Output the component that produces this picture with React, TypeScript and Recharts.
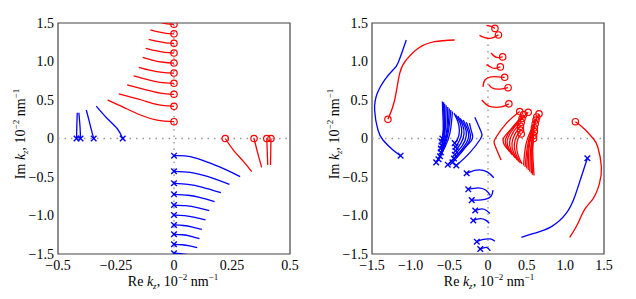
import React from "react";
import { ScatterChart, Scatter, XAxis, YAxis, ReferenceLine, ReferenceArea } from "recharts";

type Pt = [number, number];

const RED = "#ff0000";
const BLUE = "#0000ff";
const FONT = "'Liberation Serif', 'Times New Roman', serif";

const Y_TICKS = [-1.5, -1, -0.5, 0, 0.5, 1, 1.5];
const Y_LABELS = ["−1.5", "−1.0", "−0.5", "0", "0.5", "1.0", "1.5"];
const LEFT_X_TICKS = [-0.5, -0.25, 0, 0.25, 0.5];
const LEFT_X_LABELS = ["−0.5", "−0.25", "0", "0.25", "0.5"];
const RIGHT_X_TICKS = [-1.5, -1, -0.5, 0, 0.5, 1, 1.5];
const RIGHT_X_LABELS = ["−1.5", "−1.0", "−0.5", "0", "0.5", "1.0", "1.5"];

// left panel: first point of each curve carries the marker
const leftRed: Pt[][] = [
  [[0, 0.218], [-0.073, 0.24], [-0.145, 0.305], [-0.217, 0.405], [-0.286, 0.5]],
  [[0, 0.418], [-0.07, 0.44], [-0.14, 0.5], [-0.238, 0.58]],
  [[0, 0.574], [-0.06, 0.59], [-0.12, 0.63], [-0.202, 0.695]],
  [[0, 0.717], [-0.06, 0.73], [-0.11, 0.76], [-0.174, 0.812]],
  [[0, 0.85], [-0.05, 0.86], [-0.1, 0.885], [-0.152, 0.925]],
  [[0, 0.98], [-0.045, 0.99], [-0.09, 1.015], [-0.135, 1.054]],
  [[0, 1.11], [-0.04, 1.118], [-0.08, 1.14], [-0.122, 1.171]],
  [[0, 1.236], [-0.035, 1.243], [-0.07, 1.26], [-0.109, 1.288]],
  [[0, 1.36], [-0.035, 1.366], [-0.068, 1.384], [-0.102, 1.41]],
  [[0, 1.483], [-0.03, 1.49], [-0.06, 1.51]],
  [[0.221, 0], [0.256, -0.15], [0.3, -0.3], [0.335, -0.43]],
  [[0.345, 0], [0.36, -0.18], [0.378, -0.375]],
  [[0.4, 0], [0.402, -0.17], [0.404, -0.345]],
  [[0.418, 0], [0.417, -0.17], [0.416, -0.345]],
];

const leftBlue: Pt[][] = [
  [[0, -0.223], [0.07, -0.235], [0.156, -0.32], [0.228, -0.41], [0.285, -0.496]],
  [[0, -0.426], [0.07, -0.44], [0.14, -0.49], [0.239, -0.595]],
  [[0, -0.582], [0.06, -0.595], [0.12, -0.63], [0.202, -0.703]],
  [[0, -0.725], [0.06, -0.737], [0.11, -0.765], [0.175, -0.82]],
  [[0, -0.864], [0.05, -0.873], [0.1, -0.897], [0.152, -0.937]],
  [[0, -0.994], [0.045, -1.002], [0.09, -1.024], [0.136, -1.058]],
  [[0, -1.123], [0.04, -1.13], [0.08, -1.15], [0.12, -1.18]],
  [[0, -1.244], [0.037, -1.25], [0.074, -1.27], [0.11, -1.3]],
  [[0, -1.374], [0.035, -1.38], [0.068, -1.395], [0.1, -1.418]],
  [[0, -1.49], [0.03, -1.495], [0.063, -1.51]],
  [[-0.42, 0], [-0.419, 0.15], [-0.417, 0.335]],
  [[-0.403, 0], [-0.405, 0.15], [-0.41, 0.335]],
  [[-0.346, 0], [-0.355, 0.1], [-0.365, 0.22], [-0.378, 0.37]],
  [[-0.221, 0], [-0.245, 0.13], [-0.288, 0.26], [-0.335, 0.42]],
];

// right panel
const rightRed: Pt[][] = [
  [[-1.294, 0.249], [-1.207, 0.5], [-1.142, 0.847], [-1.057, 1.02], [-0.906, 1.17], [-0.69, 1.257], [-0.431, 1.279]],
  [[1.13, 0.218], [1.24, 0.13], [1.36, 0.0], [1.42, -0.11], [1.466, -0.366], [1.44, -0.59], [1.36, -0.78], [1.25, -0.92], [1.164, -1.1], [1.057, -1.283]],
  [[0.09, 1.43], [0.04, 1.455], [-0.02, 1.47]],
  [[0.135, 1.345], [0.09, 1.32], [0.03, 1.3], [-0.04, 1.31], [-0.11, 1.34]],
  [[0.19, 1.06], [0.13, 1.05], [0.08, 1.07], [0.04, 1.11]],
  [[0.16, 0.93], [0.08, 0.91], [0.03, 0.93], [-0.02, 0.96]],
  [[0.216, 0.795], [0.13, 0.8], [0.04, 0.8], [-0.04, 0.76], [-0.065, 0.67]],
  [[0.26, 0.66], [0.13, 0.64], [0.05, 0.66], [0.01, 0.7]],
  [[0.27, 0.45], [0.17, 0.41], [0.05, 0.41], [-0.02, 0.44], [-0.08, 0.5]],
  [[0.41, 0.35], [0.24, 0.2], [0.1, 0.01], [0.09, -0.09], [0.17, -0.28]],
  [[0.52, 0.34], [0.35, 0.17], [0.21, 0.02], [0.21, -0.08], [0.28, -0.17]],
  [[0.46, 0.31], [0.32, 0.15], [0.23, 0.0], [0.24, -0.1], [0.31, -0.21]],
  [[0.44, 0.26], [0.32, 0.12], [0.25, -0.02], [0.27, -0.13], [0.35, -0.25]],
  [[0.43, 0.21], [0.33, 0.09], [0.28, -0.04], [0.3, -0.16], [0.38, -0.28]],
  [[0.42, 0.16], [0.35, 0.06], [0.31, -0.06], [0.33, -0.18], [0.4, -0.3]],
  [[0.42, 0.11], [0.37, 0.03], [0.34, -0.08], [0.36, -0.2], [0.42, -0.32]],
  [[0.43, 0.06], [0.39, 0.0], [0.37, -0.1], [0.39, -0.22], [0.44, -0.33]],
  [[0.66, 0.32], [0.56, 0.12], [0.49, -0.08], [0.46, -0.35]],
  [[0.63, 0.28], [0.56, 0.09], [0.51, -0.1], [0.48, -0.37]],
  [[0.62, 0.24], [0.56, 0.06], [0.52, -0.12], [0.5, -0.39]],
  [[0.61, 0.19], [0.56, 0.03], [0.53, -0.14], [0.52, -0.41]],
  [[0.6, 0.14], [0.57, 0.0], [0.55, -0.16], [0.54, -0.43]],
  [[0.6, 0.09], [0.57, -0.03], [0.56, -0.18], [0.56, -0.45]],
  [[0.59, 0.04], [0.58, -0.06], [0.57, -0.2], [0.575, -0.47]],
  [[0.59, 0.0], [0.58, -0.09], [0.58, -0.22], [0.595, -0.48]],
];

const rightBlue: Pt[][] = [
  [[-1.13, -0.223], [-1.229, -0.15], [-1.358, -0.02], [-1.423, 0.11], [-1.466, 0.37], [-1.432, 0.587], [-1.336, 0.76], [-1.229, 0.89], [-1.164, 0.98], [-1.057, 1.28]],
  [[1.285, -0.257], [1.207, -0.496], [1.121, -0.756], [1.013, -0.97], [0.82, -1.145], [0.604, -1.23], [0.431, -1.283]],
  [[-0.276, -0.452], [-0.146, -0.41], [-0.017, -0.43], [0.075, -0.51]],
  [[-0.255, -0.66], [-0.125, -0.64], [-0.03, -0.67], [0.03, -0.74]],
  [[-0.21, -0.8], [-0.13, -0.8], [-0.04, -0.79], [0.04, -0.75], [0.065, -0.67]],
  [[-0.165, -0.935], [-0.08, -0.915], [-0.02, -0.935], [0.025, -0.975]],
  [[-0.19, -1.065], [-0.1, -1.04], [-0.03, -1.06], [0.017, -1.1]],
  [[-0.145, -1.34], [-0.06, -1.31], [0.03, -1.305], [0.09, -1.335]],
  [[-0.1, -1.435], [-0.02, -1.415], [0.03, -1.46]],
  [[-0.41, -0.35], [-0.24, -0.19], [-0.1, -0.01], [-0.09, 0.09], [-0.17, 0.275]],
  [[-0.52, -0.34], [-0.35, -0.17], [-0.21, -0.02], [-0.21, 0.08], [-0.24, 0.2]],
  [[-0.46, -0.31], [-0.32, -0.15], [-0.23, 0.0], [-0.24, 0.1], [-0.28, 0.21]],
  [[-0.44, -0.26], [-0.32, -0.12], [-0.25, 0.02], [-0.27, 0.13], [-0.32, 0.24]],
  [[-0.43, -0.21], [-0.33, -0.09], [-0.28, 0.04], [-0.3, 0.16], [-0.36, 0.26]],
  [[-0.42, -0.16], [-0.35, -0.06], [-0.31, 0.06], [-0.33, 0.18], [-0.39, 0.29]],
  [[-0.42, -0.11], [-0.37, -0.03], [-0.34, 0.08], [-0.36, 0.2], [-0.42, 0.31]],
  [[-0.43, -0.06], [-0.39, 0.0], [-0.37, 0.1], [-0.39, 0.22], [-0.44, 0.33]],
  [[-0.67, -0.31], [-0.56, -0.12], [-0.49, 0.08], [-0.46, 0.35]],
  [[-0.64, -0.27], [-0.56, -0.09], [-0.51, 0.1], [-0.48, 0.37]],
  [[-0.62, -0.23], [-0.56, -0.06], [-0.52, 0.12], [-0.5, 0.39]],
  [[-0.61, -0.18], [-0.56, -0.03], [-0.53, 0.14], [-0.52, 0.41]],
  [[-0.61, -0.13], [-0.57, 0.0], [-0.55, 0.16], [-0.54, 0.43]],
  [[-0.6, -0.09], [-0.57, 0.03], [-0.56, 0.18], [-0.56, 0.45]],
  [[-0.6, -0.04], [-0.58, 0.06], [-0.57, 0.2], [-0.575, 0.47]],
  [[-0.59, 0.0], [-0.58, 0.09], [-0.58, 0.22], [-0.59, 0.48]],
];

const toXY = (c: Pt[]) => c.map(([x, y]) => ({ x, y }));

const NoDot = () => <g />;

const CircleMark = (props: any) => (
  <circle cx={props.cx} cy={props.cy} r={3.2} fill="none" stroke={RED} strokeWidth={1.2} />
);

const CrossMark = (props: any) => {
  const { cx, cy } = props;
  const s = 2.8;
  return (
    <g stroke={BLUE} strokeWidth={1.4}>
      <line x1={cx - s} y1={cy - s} x2={cx + s} y2={cy + s} />
      <line x1={cx - s} y1={cy + s} x2={cx + s} y2={cy - s} />
    </g>
  );
};

function Panel({
  xDomain,
  xTicks,
  xLabels,
  red,
  blue,
  margin,
}: {
  xDomain: [number, number];
  xTicks: number[];
  xLabels: string[];
  red: Pt[][];
  blue: Pt[][];
  margin: { top: number; right: number; bottom: number; left: number };
}) {
  const tickStyle = { fill: "#000", fontSize: 14, fontFamily: FONT };
  return (
    <ScatterChart width={318} height={299} margin={margin}>
      <XAxis
        type="number"
        dataKey="x"
        domain={xDomain}
        ticks={xTicks}
        interval={0}
        allowDataOverflow
        axisLine={false}
        tickLine={false}
        tickSize={4}
        tickMargin={2}
        height={25}
        tick={tickStyle}
        tickFormatter={(v: number) => xLabels[xTicks.indexOf(v)] ?? String(v)}
      />
      <YAxis
        type="number"
        dataKey="y"
        domain={[-1.5, 1.5]}
        ticks={Y_TICKS}
        interval={0}
        allowDataOverflow
        axisLine={false}
        tickLine={false}
        tickSize={2}
        tickMargin={2}
        width={45}
        tick={tickStyle}
        tickFormatter={(v: number) => Y_LABELS[Y_TICKS.indexOf(v)] ?? String(v)}
      />
      <ReferenceLine x={0} stroke="#999" strokeWidth={1.4} strokeDasharray="1.5 5" />
      <ReferenceLine y={0} stroke="#999" strokeWidth={1.4} strokeDasharray="1.5 5" />
      {blue.map((c, i) => (
        <Scatter
          key={`b${i}`}
          data={toXY(c)}
          fill={BLUE}
          line={{ stroke: BLUE, strokeWidth: 1.3 }}
          lineJointType="natural"
          shape={NoDot}
          isAnimationActive={false}
        />
      ))}
      {red.map((c, i) => (
        <Scatter
          key={`r${i}`}
          data={toXY(c)}
          fill={RED}
          line={{ stroke: RED, strokeWidth: 1.3 }}
          lineJointType="natural"
          shape={NoDot}
          isAnimationActive={false}
        />
      ))}
      <Scatter data={blue.map((c) => ({ x: c[0][0], y: c[0][1] }))} fill={BLUE} shape={CrossMark} isAnimationActive={false} />
      <Scatter data={red.map((c) => ({ x: c[0][0], y: c[0][1] }))} fill={RED} shape={CircleMark} isAnimationActive={false} />
      <ReferenceArea x1={xDomain[0]} x2={xDomain[1]} y1={-1.5} y2={1.5} fill="none" stroke="#444" strokeWidth={1.2} />
    </ScatterChart>
  );
}

function XTitle({ x }: { x: number }) {
  return (
    <text x={x} y={286} textAnchor="middle" fontFamily={FONT} fontSize={14} fill="#000">
      Re <tspan fontStyle="italic">k</tspan>
      <tspan fontStyle="italic" fontSize={9} dy={3}>z</tspan>
      <tspan dy={-3}>, 10</tspan>
      <tspan fontSize={9} dy={-6}>−2</tspan>
      <tspan dy={6}> nm</tspan>
      <tspan fontSize={9} dy={-6}>−1</tspan>
    </text>
  );
}

function YTitle({ x }: { x: number }) {
  return (
    <text
      x={x}
      y={134}
      textAnchor="middle"
      fontFamily={FONT}
      fontSize={14}
      fill="#000"
      transform={`rotate(-90 ${x} 134)`}
    >
      Im <tspan fontStyle="italic">k</tspan>
      <tspan fontStyle="italic" fontSize={9} dy={3}>z</tspan>
      <tspan dy={-3}>, 10</tspan>
      <tspan fontSize={9} dy={-6}>−2</tspan>
      <tspan dy={6}> nm</tspan>
      <tspan fontSize={9} dy={-6}>−1</tspan>
    </text>
  );
}

export default function App() {
  return (
    <div style={{ position: "absolute", left: 0, top: 0, width: 636, height: 299, background: "#fff" }}>
      <div style={{ position: "absolute", left: 0, top: 0 }}>
        <Panel
          xDomain={[-0.5, 0.5]}
          xTicks={LEFT_X_TICKS}
          xLabels={LEFT_X_LABELS}
          red={leftRed}
          blue={leftBlue}
          margin={{ top: 23, right: 28, bottom: 20, left: 13 }}
        />
      </div>
      <div style={{ position: "absolute", left: 318, top: 0 }}>
        <Panel
          xDomain={[-1.5, 1.5]}
          xTicks={RIGHT_X_TICKS}
          xLabels={RIGHT_X_LABELS}
          red={rightRed}
          blue={rightBlue}
          margin={{ top: 23, right: 32, bottom: 20, left: 9 }}
        />
      </div>
      <svg width={636} height={299} style={{ position: "absolute", left: 0, top: 0, pointerEvents: "none" }}>
        <XTitle x={173} />
        <XTitle x={489} />
        <YTitle x={25} />
        <YTitle x={339} />
      </svg>
    </div>
  );
}
